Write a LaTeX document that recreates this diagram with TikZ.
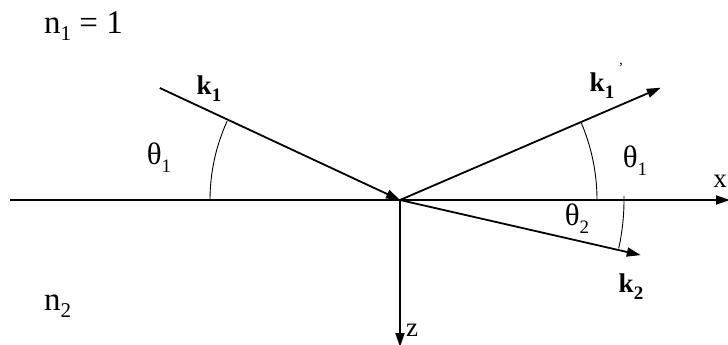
\documentclass[tikz,border=0pt]{standalone}
\usepackage{fontspec}
\setmainfont{Liberation Serif}
\usetikzlibrary{arrows.meta,calc}
\tikzset{
  ray/.style={line width=1.8pt, -{Triangle[length=14pt,width=9pt]}},
  axisline/.style={line width=1.8pt},
  anglearc/.style={line width=0.9pt},
  lbl/.style={inner sep=0pt, font=\fontsize{27}{29}\selectfont},
  biglbl/.style={inner sep=0pt, font=\fontsize{33}{35}\selectfont},
  glbl/.style={inner sep=0pt, font=\fontsize{31}{33}\selectfont},
}
\newcommand{\sbx}[1]{\raisebox{-0.25em}{\fontsize{19}{21}\selectfont #1}}
\newcommand{\sbxbig}[1]{\raisebox{-0.22em}{\fontsize{21}{23}\selectfont #1}}
\begin{document}
\begin{tikzpicture}[x=1pt,y=-1pt]
\useasboundingbox (0,0) rectangle (728,345);
\fill[white] (0,0) rectangle (728,345);
\coordinate (O) at (400,200);
\coordinate (xs) at (10,200);
\coordinate (xe) at (730,200);
\coordinate (ze) at (400,347);
\coordinate (k1s) at ($(O)+(205:265)$);
\coordinate (k1e) at ($(O)+(-23.3:284)$);
\coordinate (k2e) at ($(O)+(12.9:247)$);
% axes
\draw[axisline] (xs) -- (O);
\draw[ray] (O) -- (xe);
\draw[ray] (O) -- (ze);
% rays
\draw[ray] (k1s) -- (O);
\draw[ray] (O) -- (k1e);
\draw[ray] (O) -- (k2e);
% angle arcs
\draw[anglearc] ($(O)+(180:190)$) arc[start angle=180, end angle=204.5, radius=190];
\draw[anglearc] ($(O)+(0:197)$) arc[start angle=0, end angle=-23, radius=197];
\draw[anglearc] ($(O)+(-1:224)$) arc[start angle=-1, end angle=12.5, radius=224];
% labels
\node[biglbl, anchor=west] (n1) at (44,26) {n\sbxbig{1} = 1};
\node[biglbl, anchor=west] (n2) at (44,306) {n\sbxbig{2}};
\node[lbl] (k1) at (209,89) {\textbf{k}\sbx{\textbf{1}}};
\node[lbl] (k1p) at (602,86) {\textbf{k}\sbx{\textbf{1}}};
\node[lbl] (prime) at (621,68) {\fontsize{14}{14}\selectfont '};
\node[lbl] (k2) at (631,287) {\textbf{k}\sbx{\textbf{2}}};
\node[glbl] (th1l) at (159,158) {θ\sbx{1}};
\node[glbl] (th1r) at (635,161) {θ\sbx{1}};
\node[glbl] (th2) at (577,219) {θ\sbx{2}};
\node[lbl, anchor=east] (xl) at (727,181) {x};
\node[lbl, anchor=south west] (zl) at (406,337) {z};
\end{tikzpicture}
\end{document}
